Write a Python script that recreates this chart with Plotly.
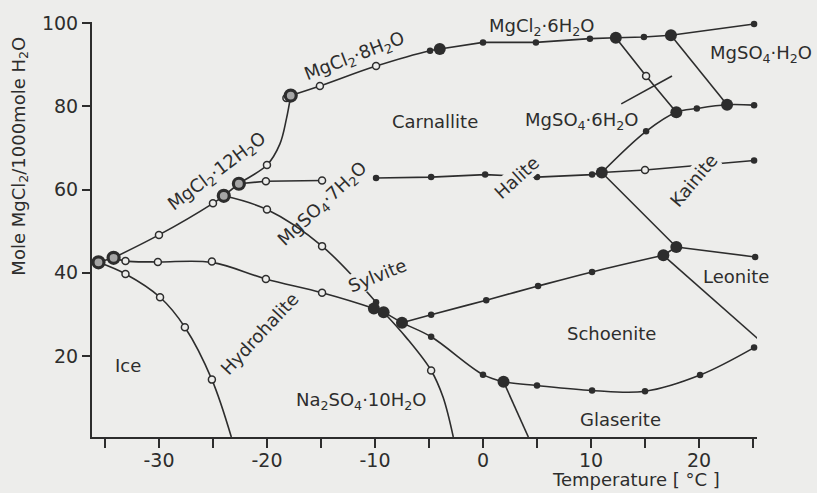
import plotly.graph_objects as go

# ---------------- data (temperature in °C, mole MgCl2 / 1000 mole H2O) ----------------
ice_T = [-35.6, -33.1, -29.9, -27.6, -25.1, -23.3]
ice_Y = [42.5, 39.7, 34.1, 26.9, 14.3, 0.5]

hydro_T = [-34.2, -33.1, -30.1, -25.1, -20.1, -14.9, -10.1, -9.2, -7.5, -4.8, 0.0, 1.9, 5.0, 10.1, 15.0, 20.1, 25.1]
hydro_Y = [43.6, 42.8, 42.6, 42.5, 38.5, 35.2, 31.4, 30.5, 28.0, 24.6, 15.5, 13.8, 12.9, 11.7, 11.5, 15.4, 22.0]

eut_T = [-35.6, -34.2]
eut_Y = [42.5, 43.6]

m12_T = [-34.2, -30.0, -25.0, -24.0, -22.6, -20.0, -18.8, -18.2, -17.8]
m12_Y = [43.6, 49.1, 56.7, 58.5, 61.4, 65.9, 71.0, 77.0, 82.6]

m8_T = [-17.8, -15.1, -9.9, -4.9, -4.0]
m8_Y = [82.6, 84.9, 89.7, 93.4, 93.8]

m6_T = [-4.0, 0.0, 4.9, 9.9, 12.3, 14.9, 17.4, 25.1]
m6_Y = [93.8, 95.4, 95.4, 96.3, 96.5, 96.7, 97.1, 99.8]

m7_T = [-24.0, -20.0, -14.9, -9.9]
m7_Y = [58.5, 55.2, 46.4, 32.9]

syl1_T = [-22.6, -20.1, -14.9]
syl1_Y = [61.4, 62.0, 62.2]
syl2_T = [-9.9, -4.8, 0.2, 5.0, 10.1, 11.0]
syl2_Y = [62.8, 63.0, 63.6, 63.0, 63.6, 64.1]

kain_T = [11.0, 15.0, 25.1]
kain_Y = [64.1, 64.7, 67.0]

kup_T = [11.0, 15.1, 17.9, 19.8, 22.6, 25.1]
kup_Y = [64.1, 74.0, 78.6, 79.5, 80.4, 80.3]

kdown_T = [11.0, 17.9]
kdown_Y = [64.1, 46.2]

leo_T = [17.9, 25.2]
leo_Y = [46.2, 43.8]

pp_T = [16.7, 17.9]
pp_Y = [44.2, 46.2]

sch_T = [-7.5, -4.8, 0.3, 5.1, 10.1, 16.7]
sch_Y = [28.0, 29.9, 33.4, 36.8, 40.2, 44.2]

ls_T = [16.7, 25.5]
ls_Y = [44.2, 24.0]

na_T = [-9.2, -7.1, -4.8, -3.7, -2.75]
na_Y = [30.5, 24.4, 16.5, 10.1, 0.5]

gl_T = [1.9, 4.2]
gl_Y = [13.8, 0.5]

h6_T = [12.3, 15.1, 17.9]
h6_Y = [96.5, 87.3, 78.6]

h1_T = [17.4, 22.6]
h1_Y = [97.1, 80.4]

tie_T = [12.8, 17.5]
tie_Y = [80.6, 87.3]

# measured points by symbol
open_T = [-33.1, -29.9, -27.6, -25.1, -33.1, -30.1, -25.1, -20.1, -14.9, -30.0, -25.0, -20.0, -18.2,
          -20.0, -14.9, -20.1, -14.9, -15.1, -9.9, -4.8, 15.1, 15.0]
open_Y = [39.7, 34.1, 26.9, 14.3, 42.8, 42.6, 42.7, 38.5, 35.2, 49.1, 56.7, 65.9, 82.0,
          55.2, 46.4, 62.0, 62.2, 84.9, 89.7, 16.5, 87.3, 64.7]

dot_T = [-9.9, -4.8, 0.0, 5.0, 10.1, 15.0, 20.1, 25.1, -4.8, 0.3, 5.1, 10.1, 25.2,
         -9.9, -4.8, 0.2, 5.0, 10.1, 25.1, -4.9, 0.0, 4.9, 9.9, 14.9, 25.1, 15.1, 19.8, 25.1]
dot_Y = [32.9, 24.6, 15.5, 12.9, 11.7, 11.5, 15.4, 22.0, 29.9, 33.4, 36.8, 40.2, 43.8,
         62.8, 63.0, 63.6, 63.0, 63.6, 67.0, 93.4, 95.4, 95.4, 96.3, 96.7, 99.8, 74.0, 79.5, 80.3]

big_T = [-10.1, -9.2, -7.5, 1.9, 16.7, 17.9, 11.0, 17.9, 22.6, 12.3, 17.4, -4.0]
big_Y = [31.4, 30.5, 28.0, 13.8, 44.2, 46.2, 64.1, 78.6, 80.4, 96.5, 97.1, 93.8]

ring_T = [-35.6, -34.2, -24.0, -22.6, -17.8]
ring_Y = [42.5, 43.6, 58.5, 61.4, 82.6]

x_ticks = [-35, -30, -25, -20, -15, -10, -5, 0, 5, 10, 15, 20, 25]
x_ticktext = ["", "-30", "", "-20", "", "-10", "", "0", "", "10", "", "20", ""]
y_ticks = [20, 40, 60, 80, 100]

# ---------------- styling ----------------
BG = "rgb(237,237,235)"
INK = "rgb(45,45,45)"
FONT = "DejaVu Sans"

fig = go.Figure()

def curve(T, Y, shape="spline"):
    fig.add_trace(go.Scatter(x=T, y=Y, mode="lines",
                             line=dict(color=INK, width=1.6, shape=shape, smoothing=1.0),
                             hoverinfo="skip", showlegend=False, cliponaxis=False))

curve(ice_T, ice_Y)
curve(hydro_T, hydro_Y)
curve(eut_T, eut_Y, "linear")
curve(m12_T, m12_Y)
curve(m8_T, m8_Y)
curve(m6_T, m6_Y, "linear")
curve(m7_T, m7_Y)
curve(syl1_T, syl1_Y, "linear")
curve(syl2_T, syl2_Y, "linear")
curve(kain_T, kain_Y, "linear")
curve(kup_T, kup_Y)
curve(kdown_T, kdown_Y, "linear")
curve(leo_T, leo_Y, "linear")
curve(pp_T, pp_Y, "linear")
curve(sch_T, sch_Y)
curve(ls_T, ls_Y, "linear")
curve(na_T, na_Y)
curve(gl_T, gl_Y, "linear")
curve(h6_T, h6_Y, "linear")
curve(h1_T, h1_Y, "linear")
curve(tie_T, tie_Y, "linear")

fig.add_trace(go.Scatter(x=open_T, y=open_Y, mode="markers", showlegend=False, cliponaxis=False,
                         marker=dict(size=7, color=BG, line=dict(color=INK, width=1.5))))
fig.add_trace(go.Scatter(x=dot_T, y=dot_Y, mode="markers", showlegend=False, cliponaxis=False,
                         marker=dict(size=6.5, color=INK, line=dict(width=0))))
fig.add_trace(go.Scatter(x=big_T, y=big_Y, mode="markers", showlegend=False, cliponaxis=False,
                         marker=dict(size=12, color=INK, line=dict(width=0))))
fig.add_trace(go.Scatter(x=ring_T, y=ring_Y, mode="markers", showlegend=False, cliponaxis=False,
                         marker=dict(size=11, color="rgb(165,165,165)", line=dict(color=INK, width=3.2))))

# ---------------- labels ----------------
labels = [
    ("Ice", -32.9, 17.7, 0, False),
    ("Hydrohalite", -20.7, 25.5, -47, False),
    ("Sylvite", -9.8, 39.3, -22, True),
    ("Na<sub>2</sub>SO<sub>4</sub>·10H<sub>2</sub>O", -11.3, 9.1, 0, False),
    ("Schoenite", 11.9, 25.3, 0, False),
    ("Glaserite", 12.7, 4.6, 0, False),
    ("Leonite", 23.4, 39.0, 0, False),
    ("Kainite", 19.5, 62.1, -50, True),
    ("MgSO<sub>4</sub>·6H<sub>2</sub>O", 9.1, 76.6, 0, False),
    ("MgCl<sub>2</sub>·6H<sub>2</sub>O", 5.4, 99.1, 0, False),
    ("Carnallite", -4.4, 76.3, 0, False),
    ("Halite", 3.1, 63.0, -42, True),
    ("MgSO<sub>4</sub>·7H<sub>2</sub>O", -14.9, 56.4, -43, False),
    ("MgCl<sub>2</sub>·12H<sub>2</sub>O", -24.6, 64.2, -37, False),
    ("MgCl<sub>2</sub>·8H<sub>2</sub>O", -11.9, 91.9, -21, False),
]
for text, tx, ty, ang, bg in labels:
    fig.add_annotation(x=tx, y=ty, xref="x", yref="y", text=text, showarrow=False,
                       textangle=ang, xanchor="center", yanchor="middle",
                       font=dict(family=FONT, size=18, color=INK),
                       bgcolor=BG if bg else None, borderpad=0)

# label lying partly outside the axis range -> paper coordinates
fig.add_annotation(x=1.006, y=0.923, xref="paper", yref="paper",
                   text="MgSO<sub>4</sub>·H<sub>2</sub>O", showarrow=False,
                   xanchor="center", yanchor="middle",
                   font=dict(family=FONT, size=18, color=INK))

fig.add_annotation(x=-0.108, y=0.676, xref="paper", yref="paper",
                   text="Mole MgCl<sub>2</sub>/1000mole H<sub>2</sub>O", textangle=-90,
                   showarrow=False, xanchor="center", yanchor="middle",
                   font=dict(family=FONT, size=18, color=INK))
fig.add_annotation(x=0.818, y=-0.1305, xref="paper", yref="paper",
                   text="Temperature [ °C ]", showarrow=False, xanchor="center", yanchor="bottom",
                   borderpad=0, font=dict(family=FONT, size=18, color=INK))

fig.update_layout(
    width=817, height=493,
    margin=dict(l=92, r=60, t=20, b=56),
    paper_bgcolor=BG, plot_bgcolor=BG,
    showlegend=False,
    xaxis=dict(range=[-36.2, 25.37], tickvals=x_ticks, ticktext=x_ticktext,
               ticks="outside", ticklen=9, tickwidth=1.6, tickcolor=INK,
               ticklabelstandoff=-4,
               showline=True, linewidth=2, linecolor=INK, showgrid=False, zeroline=False,
               tickfont=dict(family=FONT, size=19, color=INK)),
    yaxis=dict(range=[0.5, 100.3], tickvals=y_ticks,
               ticks="outside", ticklen=8, tickwidth=1.6, tickcolor=INK,
               showline=True, linewidth=2, linecolor=INK, showgrid=False, zeroline=False,
               tickfont=dict(family=FONT, size=19, color=INK)),
)

fig.write_html("out.html", config={"displayModeBar": False},
               post_script="document.body.style.margin='0px';"
                           "document.body.style.background='rgb(237,237,235)';")
